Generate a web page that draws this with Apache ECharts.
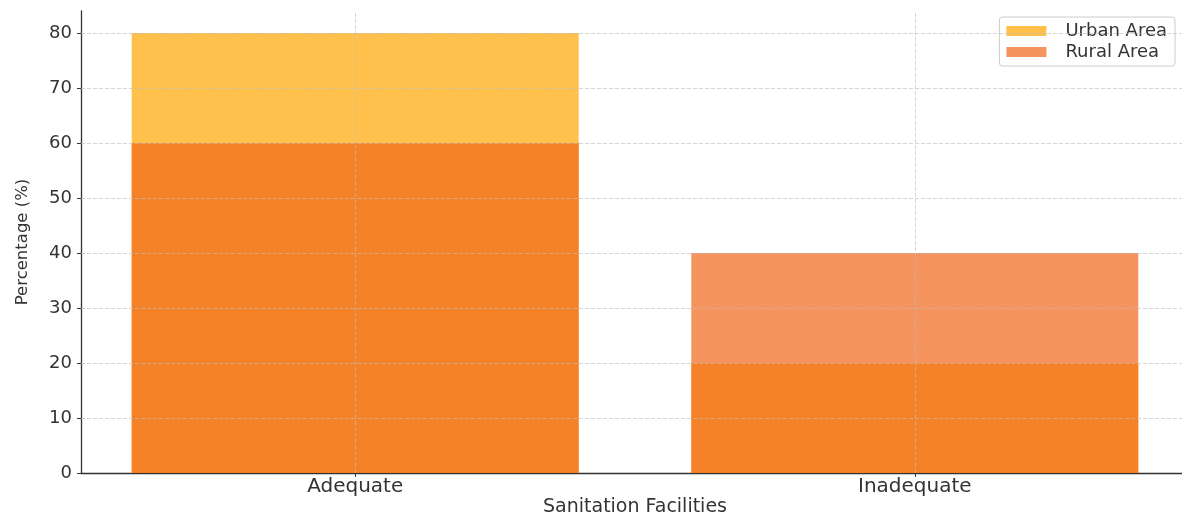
<!DOCTYPE html>
<html>
<head>
<meta charset="utf-8">
<script src="https://cdn.jsdelivr.net/npm/echarts@6/dist/echarts.min.js"></script>
<style>html,body{margin:0;padding:0;background:#fff;}#c{width:1182px;height:515px;}</style>
</head>
<body>
<div id="c"></div>
<script>
const categories = ['Adequate', 'Inadequate'];
const urbanArea = [80, 20];
const ruralArea = [60, 40];
const yTicks = [0, 10, 20, 30, 40, 50, 60, 70, 80];

const font = 'DejaVu Sans';
const xIdx = categories.map((c, i) => i);
const gridLines = yTicks.filter(v => v > 0).map(v => ({ yAxis: v }))
  .concat(xIdx.map(i => ({ xAxis: i })));

const chart = echarts.init(document.getElementById('c'));
chart.setOption({
  animation: false,
  backgroundColor: '#fff',
  grid: { left: 81, width: 1108, top: 11, bottom: 42, containLabel: false, outerBoundsMode: 'none' },
  legend: {
    right: 7, top: 17, orient: 'vertical',
    itemWidth: 40, itemHeight: 10, itemGap: 3,
    padding: [5, 8, 5, 7],
    borderColor: '#cccccc', borderWidth: 1, borderRadius: 3,
    backgroundColor: '#fff',
    icon: 'rect',
    textStyle: { fontFamily: font, fontSize: 18, color: '#333', padding: [0, 0, 0, 14] },
    data: ['Urban Area', 'Rural Area']
  },
  xAxis: {
    type: 'value', min: -0.49, max: 1.49,
    name: 'Sanitation Facilities', nameLocation: 'middle', nameGap: 25, nameMoveOverlap: false,
    nameTextStyle: { fontFamily: font, fontSize: 19, color: '#333' },
    axisLine: { show: true, onZero: false, lineStyle: { color: '#333', width: 1.3 } },
    axisTick: { show: true, customValues: xIdx, length: 4, lineStyle: { color: '#333' } },
    axisLabel: { customValues: xIdx, fontFamily: font, fontSize: 20, color: '#333', margin: 4,
      formatter: v => categories[Math.round(v)] || '' },
    splitLine: { show: false }
  },
  yAxis: {
    type: 'value', min: 0, max: 84,
    name: 'Percentage (%)', nameLocation: 'middle', nameGap: 50, nameRotate: 90, nameMoveOverlap: false,
    nameTextStyle: { fontFamily: font, fontSize: 16.5, color: '#333' },
    axisLine: { show: true, onZero: false, lineStyle: { color: '#333', width: 1.3 } },
    axisTick: { show: true, customValues: yTicks, length: 4, lineStyle: { color: '#333' } },
    axisLabel: { customValues: yTicks, fontFamily: font, fontSize: 18, color: '#333', margin: 9 },
    splitLine: { show: false }
  },
  series: [
    {
      name: 'Urban Area', type: 'bar',
      data: urbanArea.map((v, i) => [i, v]),
      barWidth: 447, barGap: '-100%',
      itemStyle: { color: 'rgba(255,165,0,0.7)' }
    },
    {
      name: 'Rural Area', type: 'bar',
      data: ruralArea.map((v, i) => [i, v]),
      barWidth: 447, barGap: '-100%',
      itemStyle: { color: 'rgba(241,102,26,0.7)' },
      markLine: {
        silent: true, symbol: 'none', z: 5,
        label: { show: false },
        lineStyle: { color: 'rgba(190,190,190,0.7)', type: [4, 2], width: 0.9 },
        data: gridLines
      }
    }
  ]
});
</script>
</body>
</html>
